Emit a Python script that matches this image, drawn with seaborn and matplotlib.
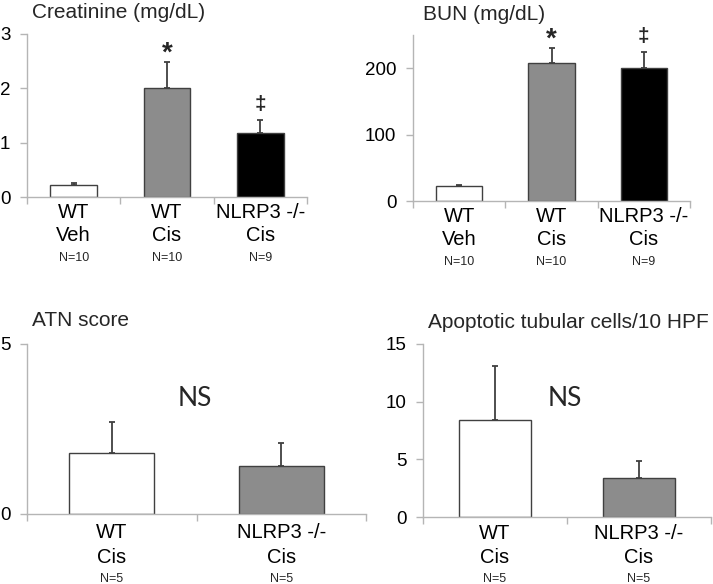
import matplotlib
matplotlib.use("Agg")
import matplotlib.pyplot as plt
import seaborn as sns
import pandas as pd

# ---- data ----
creat_labels = ["WT\nVeh", "WT\nCis", "NLRP3 -/-\nCis"]
creat_n = ["N=10", "N=10", "N=9"]
creat_vals = [0.22, 2.0, 1.17]
creat_err = [0.03, 0.48, 0.25]
creat_marks = ["", "*", "‡"]

bun_labels = ["WT\nVeh", "WT\nCis", "NLRP3 -/-\nCis"]
bun_n = ["N=10", "N=10", "N=9"]
bun_vals = [22.5, 208, 201]
bun_err = [1.5, 22, 24]
bun_marks = ["", "*", "‡"]

atn_labels = ["WT\nCis", "NLRP3 -/-\nCis"]
atn_n = ["N=5", "N=5"]
atn_vals = [1.8, 1.40]
atn_err = [0.9, 0.69]

apo_labels = ["WT\nCis", "NLRP3 -/-\nCis"]
apo_n = ["N=5", "N=5"]
apo_vals = [8.38, 3.42]
apo_err = [4.72, 1.40]

three_colors = ["#ffffff", "#8c8c8c", "#000000"]
two_colors = ["#ffffff", "#8c8c8c"]

sns.set_theme(style="white")
plt.rcParams["font.family"] = ["Liberation Sans", "DejaVu Sans"]

W, H = 713, 584
fig = plt.figure(figsize=(W / 100, H / 100), dpi=100)


def px_axes(left, top, right, bottom):
    return fig.add_axes([left / W, 1 - bottom / H, (right - left) / W, (bottom - top) / H])


def draw_panel(ax, labels, nlabels, vals, errs, colors, ylim, yticks, lsp, n_off, tpad, marks=None):
    df = pd.DataFrame({"cat": labels, "val": vals})
    sns.barplot(data=df, x="cat", y="val", hue="cat", palette=colors, legend=False,
                width=0.5, edgecolor="#404040", linewidth=1.0, ax=ax, saturation=1)
    xs = list(range(len(labels)))
    ax.errorbar(xs, vals, yerr=[[0] * len(errs), errs], fmt="none",
                ecolor="#404040", elinewidth=1.3, capsize=2.5, capthick=1.3)
    ax.set_xlim(-0.5, len(labels) - 0.5)
    ax.set_ylim(*ylim)
    ax.set_yticks(yticks)
    ax.set_xlabel("")
    ax.set_ylabel("")
    for s in ["top", "right"]:
        ax.spines[s].set_visible(False)
    for s in ["left", "bottom"]:
        ax.spines[s].set_color("#b5b5b5")
        ax.spines[s].set_linewidth(1.0)
    ax.tick_params(axis="y", which="major", left=True, length=5, width=1.0, color="#b5b5b5",
                   labelsize=13.5, pad=7, labelcolor="black")
    ax.set_xticks(xs)
    ax.set_xticklabels(labels, fontsize=14.5, linespacing=lsp)
    ax.tick_params(axis="x", which="major", bottom=False, length=0, pad=tpad, labelcolor="black")
    ax.set_xticks([i - 0.5 for i in range(len(labels) + 1)], minor=True)
    ax.tick_params(axis="x", which="minor", bottom=True, length=5, width=1.0, color="#b5b5b5")
    for x, n in zip(xs, nlabels):
        ax.annotate(n, xy=(x, 0), xycoords=("data", "axes fraction"), xytext=(0, -n_off),
                    textcoords="offset points", ha="center", va="center", fontsize=9)
    if marks:
        offs = {"*": 6.5, "‡": 11}
        for x, v, e, m in zip(xs, vals, errs, marks):
            if m:
                fs = 20 if m == "*" else 15
                ax.annotate(m, xy=(x, v + e), xytext=(0, offs[m]), textcoords="offset points",
                            ha="center", va="center", fontsize=fs, fontweight="bold")
    ax.set_facecolor("white")


ax1 = px_axes(27, 34, 307, 197)
draw_panel(ax1, creat_labels, creat_n, creat_vals, creat_err, three_colors, (0, 3), [0, 1, 2, 3],
           1.27, 44, 4, creat_marks)
ax2 = px_axes(413, 35, 690, 201)
draw_panel(ax2, bun_labels, bun_n, bun_vals, bun_err, three_colors, (0, 250), [0, 100, 200],
           1.27, 44, 4, bun_marks)
ax3 = px_axes(27, 344, 366, 514)
draw_panel(ax3, atn_labels, atn_n, atn_vals, atn_err, two_colors, (0, 5), [0, 5], 1.37, 46.5, 6.5)
ax4 = px_axes(423, 344, 711, 517)
draw_panel(ax4, apo_labels, apo_n, apo_vals, apo_err, two_colors, (0, 15), [0, 5, 10, 15],
           1.37, 44.5, 5)

fig.text(32 / W, 1 - 12 / H, "Creatinine (mg/dL)", fontsize=15, ha="left", va="center")
fig.text(423 / W, 1 - 15 / H, "BUN (mg/dL)", fontsize=15, ha="left", va="center")
fig.text(32 / W, 1 - 320 / H, "ATN score", fontsize=15, ha="left", va="center")
fig.text(428 / W, 1 - 322 / H, "Apoptotic tubular cells/10 HPF", fontsize=15, ha="left", va="center")

fig.text(195 / W, 1 - 399 / H, "NS", fontsize=19, ha="center", va="center",
         family=["Lato", "DejaVu Sans"])
fig.text(565 / W, 1 - 399 / H, "NS", fontsize=19, ha="center", va="center",
         family=["Lato", "DejaVu Sans"])

fig.savefig("out.png", dpi=100, facecolor="white")
